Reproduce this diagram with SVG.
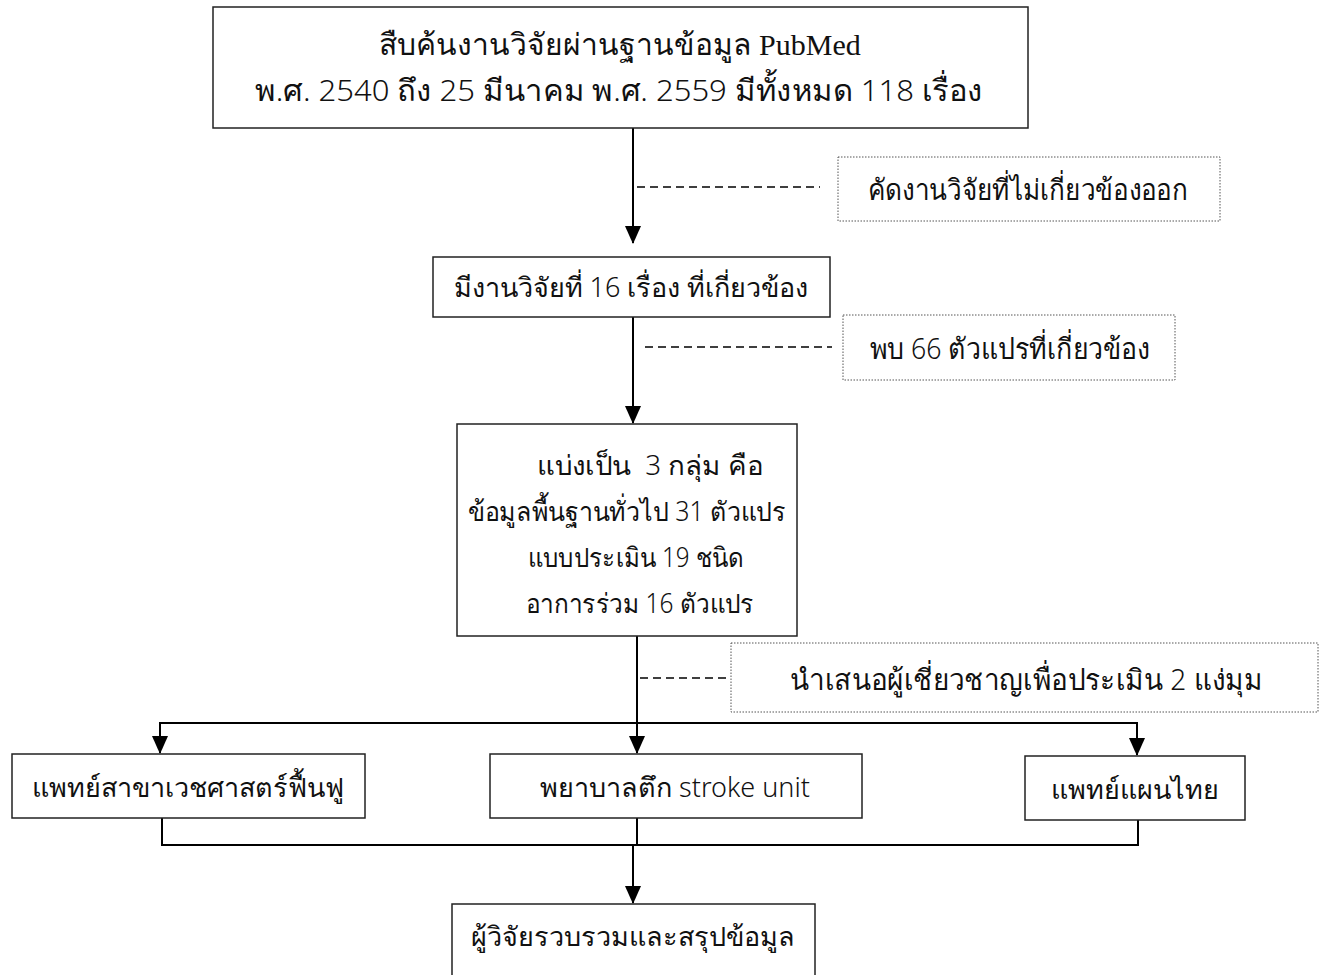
<svg xmlns="http://www.w3.org/2000/svg" width="1325" height="975" viewBox="0 0 1325 975">
<defs>
<marker id="ah" markerWidth="18" markerHeight="16" refX="17" refY="8" orient="auto-start-reverse" markerUnits="userSpaceOnUse" viewBox="0 0 18 16">
<path d="M0,0 L18,8 L0,16 Z" fill="#000"/>
</marker>
</defs>
<style>
.box{fill:#fff;stroke:#222;stroke-width:1.5}
.dbox{fill:#fff;stroke:#555;stroke-width:1;stroke-dasharray:1.5 1.5}
.t{font-family:"Noto Sans","DejaVu Sans",sans-serif;font-size:27px;font-weight:300;fill:#111;text-anchor:middle}
.tb{font-size:30px}
.tn{font-family:"Noto Sans","DejaVu Sans",sans-serif;font-size:29px;font-weight:300;fill:#111;text-anchor:middle}
.serif{font-family:"Liberation Serif",serif;font-weight:400}
.ln{fill:none;stroke:#000;stroke-width:2}
.dash{fill:none;stroke:#000;stroke-width:1.5;stroke-dasharray:8 5}
</style>
<rect width="1325" height="975" fill="#fff"/>
<g id="connectors">
<line class="ln" x1="633" y1="128" x2="633" y2="243" marker-end="url(#ah)"/>
<line class="dash" x1="637" y1="187" x2="820" y2="187"/>
<line class="ln" x1="633" y1="317" x2="633" y2="423" marker-end="url(#ah)"/>
<line class="dash" x1="645" y1="347" x2="832" y2="347"/>
<line class="ln" x1="637" y1="636" x2="637" y2="753" marker-end="url(#ah)"/>
<line class="dash" x1="640" y1="678" x2="731" y2="678"/>
<polyline class="ln" points="160,753 160,723 1137,723 1137,755" marker-start="url(#ah)" marker-end="url(#ah)"/>
<polyline class="ln" points="162,818 162,845 1138,845 1138,820"/>
<line class="ln" x1="637" y1="818" x2="637" y2="845"/>
<line class="ln" x1="633" y1="845" x2="633" y2="903" marker-end="url(#ah)"/>
</g>
<g id="n1">
<rect class="box" x="213" y="7" width="815" height="121"/>
<text class="t tb" x="620" y="55">สืบค้นงานวิจัยผ่านฐานข้อมูล <tspan class="serif">PubMed</tspan></text>
<text class="t tb" x="619" y="101" textLength="728" lengthAdjust="spacingAndGlyphs">พ.ศ. 2540 ถึง 25 มีนาคม พ.ศ. 2559 มีทั้งหมด 118 เรื่อง</text>
</g>
<g id="n2">
<rect class="dbox" x="838" y="157" width="382" height="64"/>
<text class="tn" x="1028" y="200" textLength="320" lengthAdjust="spacingAndGlyphs">คัดงานวิจัยที่ไม่เกี่ยวข้องออก</text>
</g>
<g id="n3">
<rect class="box" x="433" y="257" width="397" height="60"/>
<text class="t" x="631" y="297">มีงานวิจัยที่ 16 เรื่อง ที่เกี่ยวข้อง</text>
</g>
<g id="n4">
<rect class="dbox" x="843" y="315" width="332" height="65"/>
<text class="tn" x="1010" y="359" textLength="280" lengthAdjust="spacingAndGlyphs">พบ 66 ตัวแปรที่เกี่ยวข้อง</text>
</g>
<g id="n5">
<rect class="box" x="457" y="424" width="340" height="212"/>
<text class="t" x="650" y="475" xml:space="preserve" textLength="226" lengthAdjust="spacingAndGlyphs">แบ่งเป็น  3 กลุ่ม คือ</text>
<text class="t" x="627" y="521" textLength="318" lengthAdjust="spacingAndGlyphs">ข้อมูลพื้นฐานทั่วไป 31 ตัวแปร</text>
<text class="t" x="636" y="567" textLength="216" lengthAdjust="spacingAndGlyphs">แบบประเมิน 19 ชนิด</text>
<text class="t" x="640" y="613" textLength="228" lengthAdjust="spacingAndGlyphs">อาการร่วม 16 ตัวแปร</text>
</g>
<g id="n6">
<rect class="dbox" x="731" y="643" width="587" height="69"/>
<text class="tn" x="1026" y="690" textLength="472" lengthAdjust="spacingAndGlyphs">นำเสนอผู้เชี่ยวชาญเพื่อประเมิน 2 แง่มุม</text>
</g>
<g id="n7">
<rect class="box" x="12" y="754" width="353" height="64"/>
<text class="t" x="188" y="797">แพทย์สาขาเวชศาสตร์ฟื้นฟู</text>
</g>
<g id="n8">
<rect class="box" x="490" y="754" width="372" height="64"/>
<text class="t" x="675" y="797">พยาบาลตึก stroke unit</text>
</g>
<g id="n9">
<rect class="box" x="1025" y="756" width="220" height="64"/>
<text class="t" x="1135" y="799">แพทย์แผนไทย</text>
</g>
<g id="n10">
<rect class="box" x="452" y="904" width="363" height="75"/>
<text class="t" x="633" y="946">ผู้วิจัยรวบรวมและสรุปข้อมูล</text>
</g>
</svg>
